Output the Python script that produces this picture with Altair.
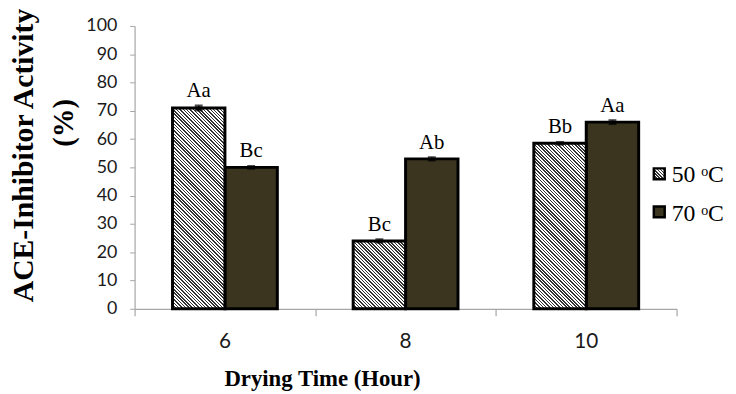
import altair as alt
import pandas as pd

# ---- data ----
times = ["6", "8", "10"]
temps = ["50 ᵒC", "70 ᵒC"]
ace_50 = [71.0, 24.0, 58.5]
ace_70 = [50.0, 53.0, 66.0]
err_50 = [0.8, 0.5, 0.4]
err_70 = [0.4, 0.5, 0.6]
letters_50 = ["Aa", "Bc", "Bb"]
letters_70 = ["Bc", "Ab", "Aa"]
band_edges = [0, 1, 2, 3]
y_ticks = list(range(0, 101, 10))
x_title = ["Drying Time (Hour)"]
y_title = ["ACE-Inhibitor Activity", "(%)"]

rows = []
for i, t in enumerate(times):
    rows.append(dict(time=t, temp=temps[0], value=ace_50[i], err=err_50[i], letter=letters_50[i]))
    rows.append(dict(time=t, temp=temps[1], value=ace_70[i], err=err_70[i], letter=letters_70[i]))
df = pd.DataFrame(rows)
df["lo"] = df["value"] - df["err"]
df["hi"] = df["value"] + df["err"]

# ---- style / layout ----
W, H = 548, 286
BAR_W = W / 3 / 3.4466
GREY = "#a6a6a6"
DARK = "#3b3520"
SERIF = "Liberation Serif"
SANS = "Lato"


def hatch(w, h, period=3.4, duty=0.45, ink="#333333", paper="#ffffff"):
    s = (w + h) / (w * w + h * h)
    n = max(1, round((w + h) / period))
    stops = []
    for k in range(n):
        a = k / n
        b = min((k + duty) / n, 1.0)
        stops += [
            {"offset": a, "color": paper},
            {"offset": a, "color": ink},
            {"offset": b, "color": ink},
            {"offset": b, "color": paper},
        ]
    return {"gradient": "linear", "x1": 0, "y1": 1, "x2": w * s, "y2": 1 - h * s, "stops": stops}


X = alt.X(
    "time:N",
    sort=times,
    scale=alt.Scale(domain=times, paddingInner=0, paddingOuter=0),
    axis=alt.Axis(
        title=None, ticks=False, tickSize=0, labelPadding=22, labelAngle=0,
        labelFont=SANS, labelFontSize=21, labelColor="#1a1a1a",
        domainColor=GREY, domainWidth=1.2, grid=False,
    ),
)
XO = alt.XOffset("temp:N", sort=temps, scale=alt.Scale(domain=temps, paddingInner=0, paddingOuter=0.7233))

Y_AXIS = alt.Axis(
    values=y_ticks, title=None, grid=False, tickSize=5, tickColor=GREY,
    domainColor=GREY, domainWidth=1.2, labelFont=SANS, labelFontSize=18,
    labelPadding=13, labelColor="#1a1a1a", labelOverlap=False, labelFlush=False,
)


def yenc(field):
    return alt.Y(f"{field}:Q", scale=alt.Scale(domain=[0, 100], nice=False), axis=Y_AXIS)


base = alt.Chart(df).encode(x=X, xOffset=XO)

dark = base.mark_bar(fill=DARK, stroke="black", strokeWidth=3).encode(y=yenc("value")).transform_filter(
    alt.datum.temp == temps[1]
)

hatched = []
for i, t in enumerate(times):
    hpx = ace_50[i] / 100 * H
    hatched.append(
        base.mark_bar(fill=hatch(BAR_W, hpx), stroke="black", strokeWidth=3)
        .encode(y=yenc("value"))
        .transform_filter((alt.datum.temp == temps[0]) & (alt.datum.time == t))
    )

err_rule = base.mark_rule(color="black", strokeWidth=1.5).encode(y=yenc("lo"), y2="hi:Q")
cap_lo = base.mark_tick(color="black", thickness=2.5, size=8).encode(y=yenc("lo"))
cap_hi = base.mark_tick(color="black", thickness=2.5, size=8).encode(y=yenc("hi"))
letters = base.mark_text(font=SERIF, fontSize=21, baseline="alphabetic", dy=-9, color="black").encode(
    y=yenc("hi"), text="letter:N"
)

main = alt.layer(dark, *hatched, err_rule, cap_lo, cap_hi, letters)

edges = alt.Chart(pd.DataFrame({"edge": band_edges})).mark_point(opacity=0).encode(
    x=alt.X(
        "edge:Q",
        scale=alt.Scale(domain=[0, 3], nice=False, zero=False),
        axis=alt.Axis(values=band_edges, labels=False, title=None, domain=False, grid=False,
                      tickSize=7, tickColor=GREY, tickWidth=1.2, orient="bottom"),
    )
)

# legend (manual, so the hatched swatch can carry its pattern)
leg = pd.DataFrame({"temp": temps})
sw50 = alt.Chart(leg).transform_filter(alt.datum.temp == temps[0]).mark_square(
    size=121, fill=hatch(11, 11, period=3.0), stroke="black", strokeWidth=2.5, opacity=1
).encode(x=alt.value(530.5), y=alt.value(149.5))
sw70 = alt.Chart(leg).transform_filter(alt.datum.temp == temps[1]).mark_square(
    size=121, fill=DARK, stroke="black", strokeWidth=2.5, opacity=1
).encode(x=alt.value(530.5), y=alt.value(188))
tx50 = alt.Chart(leg).transform_filter(alt.datum.temp == temps[0]).mark_text(
    font=SERIF, fontSize=24, align="left", baseline="middle", color="black"
).encode(x=alt.value(543), y=alt.value(151), text="temp:N")
tx70 = alt.Chart(leg).transform_filter(alt.datum.temp == temps[1]).mark_text(
    font=SERIF, fontSize=24, align="left", baseline="middle", color="black"
).encode(x=alt.value(543), y=alt.value(190), text="temp:N")

# titles
tdf = pd.DataFrame({"k": [0]})
xt = alt.Chart(tdf).mark_text(font=SERIF, fontSize=23, fontWeight="bold", align="center",
                              baseline="alphabetic", color="black").encode(
    x=alt.value(190), y=alt.value(364), text=alt.value(x_title[0]))
yt1 = alt.Chart(tdf).mark_text(font=SERIF, fontSize=30, fontWeight="bold", align="center",
                               baseline="middle", angle=270, color="black").encode(
    x=alt.value(-112), y=alt.value(131), text=alt.value(y_title[0]))
yt2 = alt.Chart(tdf).mark_text(font=SERIF, fontSize=29, fontWeight="bold", align="center",
                               baseline="middle", angle=270, color="black").encode(
    x=alt.value(-71), y=alt.value(98), text=alt.value(y_title[1]))

chart = (
    alt.layer(main, edges, sw50, sw70, tx50, tx70, xt, yt1, yt2)
    .resolve_scale(x="independent")
    .properties(
        width=W, height=H,
        autosize=alt.AutoSizeParams(type="none"),
        padding={"left": 128, "top": 16, "right": 52, "bottom": 84},
        background="white",
    )
    .configure_view(stroke=None)
)

chart.save("out.html", embed_options={"renderer": "svg", "actions": False})
